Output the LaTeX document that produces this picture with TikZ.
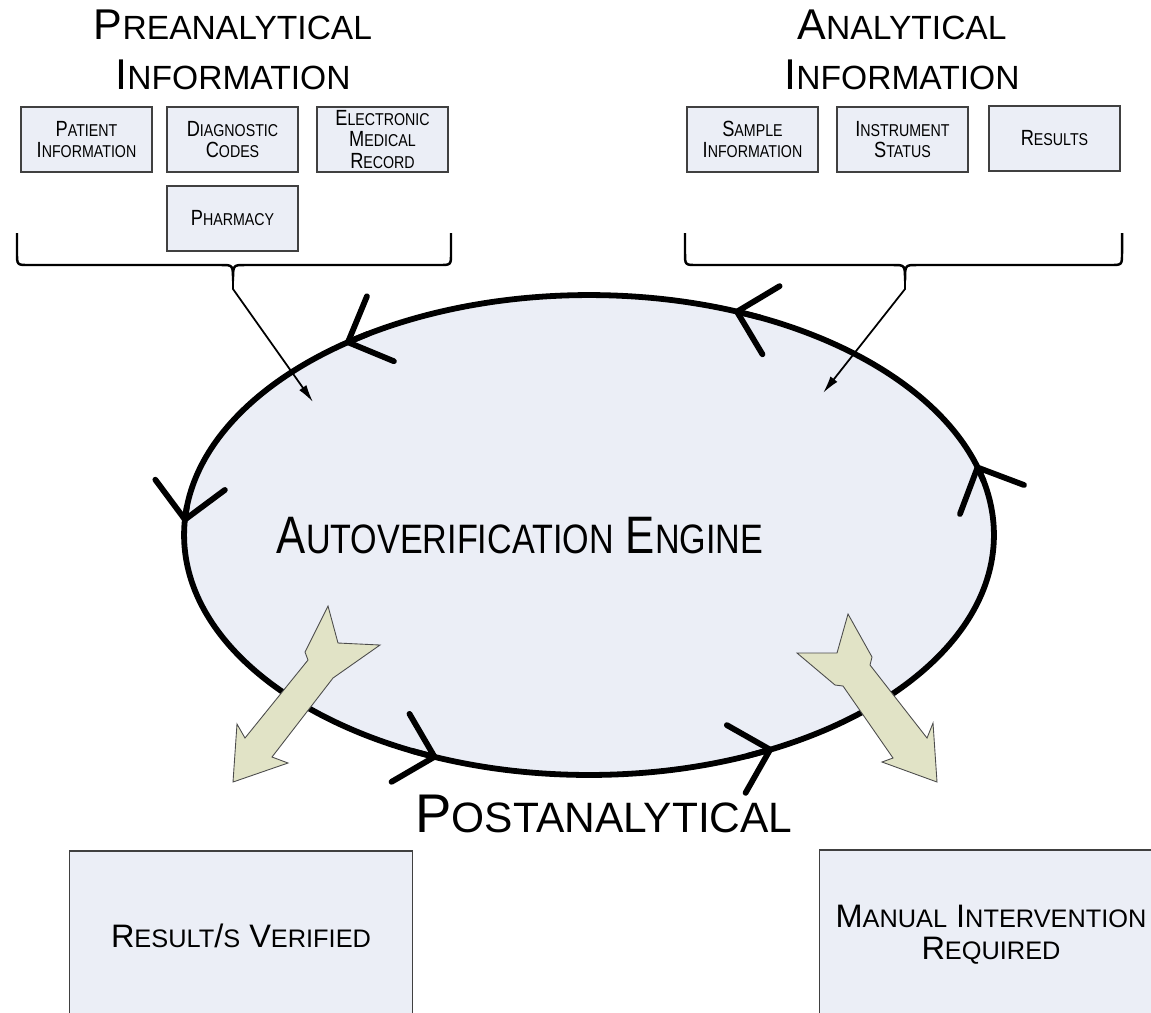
\documentclass[tikz,border=0pt]{standalone}
\usepackage{xcolor}
\usepackage{fontspec}
\setmainfont{Liberation Sans}
\newfontfamily\narrowsf[FakeStretch=0.83]{Liberation Sans}
\usepackage{tikz}
\usetikzlibrary{shapes.geometric,arrows.meta}
\definecolor{boxfill}{HTML}{EBEEF6}
\definecolor{arrowfill}{HTML}{E1E3C6}
\newcommand{\sct}[2]{#1\scalebox{0.78}{#2}}

\begin{document}
\begin{tikzpicture}[x=0.02cm,y=-0.02cm,
    infobox/.style={draw=black!75,fill=boxfill,line width=0.7pt,minimum width=2.62cm,minimum height=1.3cm,
      align=center,inner sep=1pt,font=\narrowsf\fontsize{12.5}{12}\selectfont},
    outbox/.style={draw=black!75,fill=boxfill,line width=0.7pt,minimum width=6.85cm,minimum height=3.4cm,
      align=center,font=\fontsize{18.5}{18.2}\selectfont},
    heading/.style={align=center,font=\fontsize{24.5}{28.5}\selectfont},
    brace/.style={line width=1.4pt},
    feed/.style={line width=1pt,-{Latex[length=10pt,width=5pt]}},
    chev/.style={line width=3.3pt,-{Straight Barb[length=20pt,width=40pt,round]}},
    bigarrow/.style={fill=arrowfill,draw=black!70,line width=0.5pt}]
                    \useasboundingbox (0,0) rectangle (1151,1012);

                    % the engine
                    \node[ellipse,draw,line width=3.3pt,fill=boxfill,minimum width=16.2cm,minimum height=9.6cm,inner sep=0pt] (engine) at (589,535) {};
                    \foreach \t in {17,69,127,177,248,297}
                        \draw[chev] ({589+405*cos(\t-4)},{535-240*sin(\t-4)}) -- ({589+405*cos(\t)},{535-240*sin(\t)});

                    \node[font=\narrowsf\fontsize{30}{31}\selectfont,anchor=base] (engtxt) at (520,553) {\sct{A}{UTOVERIFICATION} \sct{E}{NGINE}};

                    % headings and sources
                    \node[heading] (preinfo) at (233,50) {\sct{P}{REANALYTICAL}\\\sct{I}{NFORMATION}};
                    \node[heading] (ainfo) at (902,50) {\sct{A}{NALYTICAL}\\\sct{I}{NFORMATION}};

                    \node[infobox] (patient) at (86.5,139.5) {\sct{P}{ATIENT}\\\sct{I}{NFORMATION}};
                    \node[infobox] (diag) at (232.5,139.5) {\sct{D}{IAGNOSTIC}\\\sct{C}{ODES}};
                    \node[infobox] (emr) at (382.5,139.5) {\sct{E}{LECTRONIC}\\\sct{M}{EDICAL}\\\sct{R}{ECORD}};
                    \node[infobox] (pharm) at (232.5,218.5) {\sct{P}{HARMACY}};
                    \node[infobox] (sample) at (752.5,139.5) {\sct{S}{AMPLE}\\\sct{I}{NFORMATION}};
                    \node[infobox] (instr) at (902.5,139.5) {\sct{I}{NSTRUMENT}\\\sct{S}{TATUS}};
                    \node[infobox] (results) at (1054.5,138.5) {\sct{R}{ESULTS}};

                    % braces into the engine
                    \draw[brace] (17,233) -- (17,253) .. controls (17,265) .. (29,265) -- (221,265)
                        .. controls (233,265) .. (233,281) coordinate (ltip)
                        .. controls (233,265) .. (245,265) -- (439,265) .. controls (451,265) .. (451,253) -- (451,233);
                    \draw[brace] (685,233) -- (685,253) .. controls (685,265) .. (697,265) -- (893,265)
                        .. controls (905,265) .. (905,281) coordinate (rtip)
                        .. controls (905,265) .. (917,265) -- (1110,265) .. controls (1122,265) .. (1122,253) -- (1122,233);
                    \coordinate (lend) at (313,402);
                    \coordinate (rend) at (823,393);
                    \draw[feed] (ltip) -- ++(0,8) -- (lend);
                    \draw[feed] (rtip) -- ++(0,8) -- (rend);

                    % outcomes
                    \draw[bigarrow] (328,606) -- (338,643) -- (380,645) -- (333,678) -- (272,757) -- (288,763)
                        -- (233,782) -- (237,724) -- (245,738) -- (308,660) -- (305,652) -- cycle;
                    \draw[bigarrow] (848,614) -- (872,657) -- (870,665) -- (927,738) -- (933,723) -- (937,782)
                        -- (882,762) -- (893,758) -- (843,686) -- (835,685) -- (797,653) -- (837,653) -- cycle;

                    \node[font=\fontsize{31}{32}\selectfont,anchor=base] (post) at (604,832) {\sct{P}{OSTANALYTICAL}};
                    \node[outbox] (verified) at (241,936) {\sct{R}{ESULT}/\sct{}{S} \sct{V}{ERIFIED}};
                    \node[outbox] (manual) at (991,935) {\sct{M}{ANUAL} \sct{I}{NTERVENTION}\\\sct{R}{EQUIRED}};
                \end{tikzpicture}
\end{document}
